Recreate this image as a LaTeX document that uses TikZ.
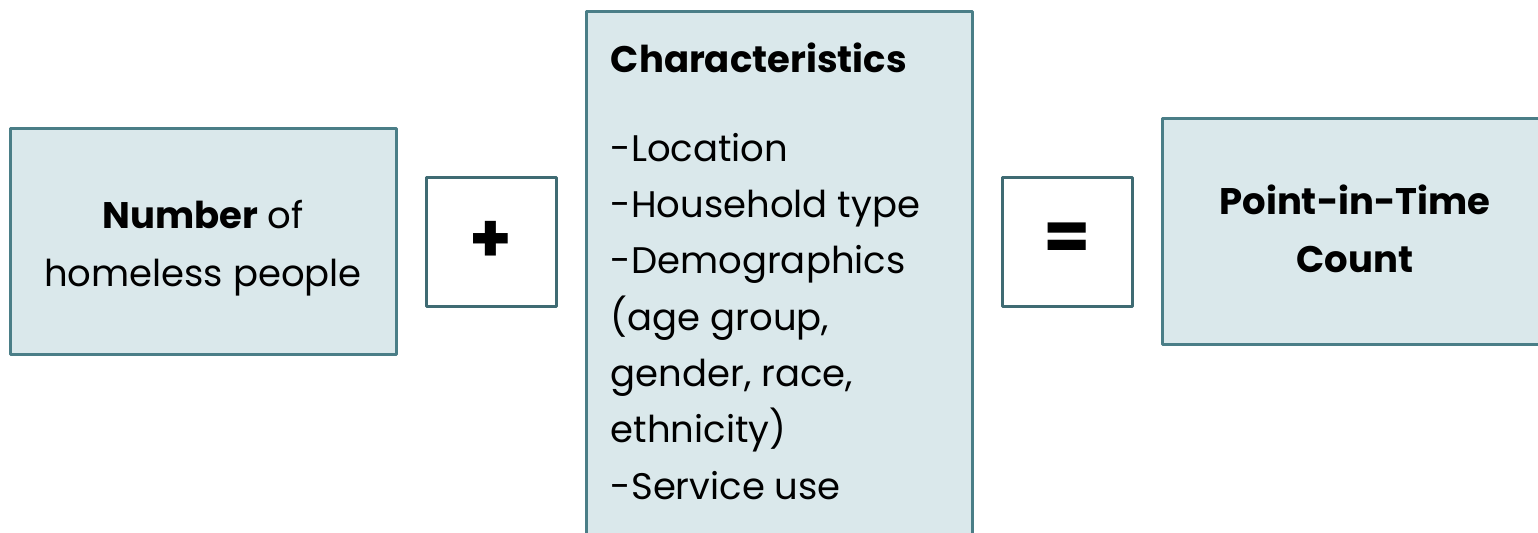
\documentclass[tikz,border=0pt]{standalone}
\usepackage{fontspec}
\setmainfont{Poppins}
\usepackage{tikz}
\usetikzlibrary{positioning}
\definecolor{pitedge}{HTML}{4A7E87}
\definecolor{pitfill}{HTML}{DAE8EB}
\begin{document}
\begin{tikzpicture}[x=0.5pt,y=-0.5pt]
    \useasboundingbox (0,0) rectangle (1538,532);
    
    \tikzset{pitbox/.style={fill=pitfill,draw=pitedge,line width=1.5pt,line join=round,
        minimum width=193pt,minimum height=113pt,inner sep=0pt}}
    \tikzset{pittext/.style={inner sep=0pt,align=center,font=\fontsize{18.5}{29}\selectfont}}
    \tikzset{opbox/.style={fill=white,draw=pitedge!85!black,line width=1.5pt,line join=round,
        minimum width=65pt,minimum height=64.5pt,inner sep=0pt,font=\fontsize{34}{34}\selectfont\bfseries}}
    
    \node[pitbox] (number) at (203,241) {};
    \node[opbox] (plus) at (491,241.5) {+};
    \node[pitbox,minimum height=275pt,anchor=north] (chars) at (779,10) {};
    \node[opbox] (equals) at (1067,241.5) {=};
    \node[pitbox] (count) at (1355,231) {};
    
    \node[pittext] (numbertext) at ([yshift=-3.5pt]number.center) {\textbf{Number} of\\homeless people};
    \node[pittext] (counttext) at ([yshift=1pt]count.center) {\textbf{Point-in-Time}\\\textbf{Count}};
    \node[pittext,anchor=north west,align=left,font=\fontsize{18.5}{28.15}\selectfont]
        (charlist) at ([xshift=13pt,yshift=-16pt]chars.north west)
        {\textbf{Characteristics}\\[16.5pt]
         -Location\\
         -Household type\\
         -Demographics\\
         (age group,\\
         gender, race,\\
         ethnicity)\\
         -Service use};
\end{tikzpicture}
\end{document}
